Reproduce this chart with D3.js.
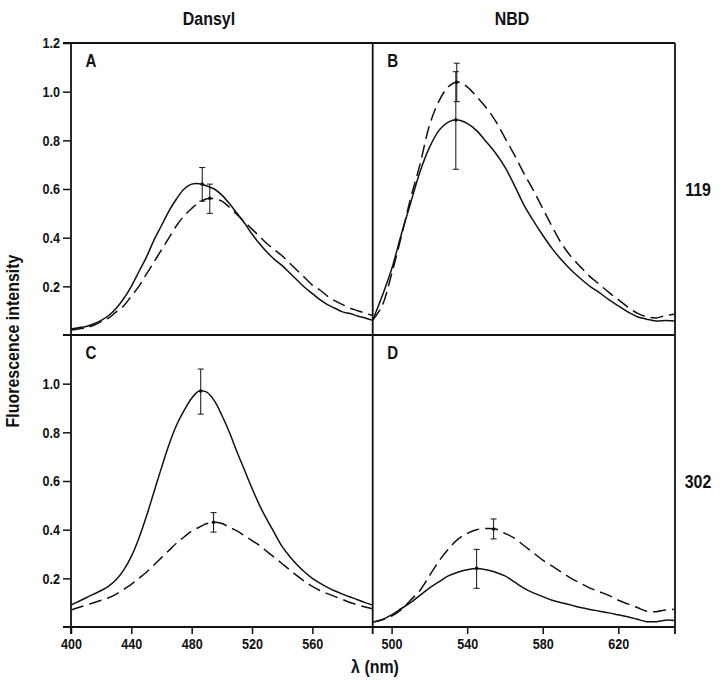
<!DOCTYPE html>
<html><head><meta charset="utf-8">
<script src="https://cdn.jsdelivr.net/npm/d3@7"></script>
<style>body{margin:0;background:#fff}svg{display:block}text{font-family:"Liberation Sans",Arial,sans-serif;fill:#111}</style>
</head><body><svg id="c" width="720" height="681"></svg>
<script>
// ---- data ----
const wlDansyl = d3.range(400, 601, 5);   // nm, panels A & C
const wlNBD = d3.range(490, 651, 5);      // nm, panels B & D
const columnTitles = ["Dansyl", "NBD"];
const rowTitles = ["119", "302"];
const panelLetters = ["A", "B", "C", "D"];
const yTicksTop = [0.2, 0.4, 0.6, 0.8, 1.0, 1.2];
const yTicksBottom = [0.2, 0.4, 0.6, 0.8, 1.0];
const xTicksDansyl = [400, 440, 480, 520, 560];
const xTicksNBD = [500, 540, 580, 620];

const A_solid = [0.025,0.03,0.035,0.045,0.06,0.08,0.11,0.15,0.2,0.26,0.32,0.39,0.45,0.51,0.56,0.6,0.62,0.622,0.612,0.6,0.575,0.54,0.5,0.46,0.415,0.375,0.34,0.31,0.285,0.255,0.225,0.195,0.17,0.145,0.125,0.11,0.095,0.088,0.078,0.07,0.06];
const A_dashed = [0.02,0.025,0.03,0.04,0.055,0.07,0.095,0.12,0.16,0.2,0.25,0.3,0.35,0.4,0.45,0.49,0.52,0.545,0.56,0.56,0.55,0.525,0.495,0.465,0.435,0.405,0.375,0.35,0.325,0.295,0.265,0.235,0.205,0.185,0.16,0.14,0.125,0.11,0.1,0.09,0.08];
const B_solid = [0.06,0.16,0.27,0.41,0.54,0.67,0.77,0.84,0.875,0.884,0.87,0.84,0.795,0.748,0.69,0.615,0.535,0.47,0.41,0.355,0.308,0.267,0.232,0.2,0.174,0.145,0.12,0.095,0.075,0.065,0.058,0.06,0.058];
const B_dashed = [0.06,0.12,0.25,0.4,0.56,0.7,0.86,0.96,1.02,1.04,1.02,0.98,0.935,0.88,0.81,0.74,0.665,0.595,0.52,0.445,0.375,0.322,0.28,0.24,0.208,0.175,0.145,0.115,0.09,0.075,0.07,0.08,0.085];
const C_solid = [0.09,0.105,0.12,0.135,0.15,0.168,0.195,0.235,0.29,0.365,0.455,0.555,0.655,0.75,0.83,0.89,0.94,0.97,0.965,0.93,0.87,0.8,0.72,0.645,0.57,0.5,0.44,0.385,0.33,0.29,0.255,0.225,0.2,0.18,0.163,0.148,0.135,0.123,0.112,0.1,0.09];
const C_dashed = [0.07,0.08,0.09,0.1,0.11,0.12,0.135,0.155,0.175,0.2,0.225,0.255,0.285,0.315,0.345,0.37,0.395,0.41,0.425,0.43,0.425,0.41,0.395,0.375,0.355,0.335,0.31,0.285,0.26,0.235,0.21,0.187,0.167,0.15,0.137,0.125,0.113,0.101,0.091,0.082,0.075];
const D_solid = [0.02,0.03,0.05,0.075,0.1,0.13,0.16,0.185,0.21,0.225,0.235,0.24,0.235,0.225,0.21,0.185,0.16,0.14,0.125,0.11,0.1,0.09,0.08,0.072,0.065,0.058,0.05,0.042,0.032,0.022,0.022,0.028,0.027];
const D_dashed = [0.02,0.03,0.045,0.07,0.11,0.15,0.21,0.27,0.32,0.36,0.385,0.4,0.405,0.403,0.385,0.365,0.335,0.305,0.275,0.25,0.225,0.2,0.18,0.16,0.145,0.13,0.11,0.095,0.08,0.065,0.063,0.07,0.073];

// error bars: [wavelength, mean, low, high]
const A_err = [[487,0.62,0.55,0.688],[492,0.562,0.50,0.62]];
const B_err = [[534,0.884,0.681,1.082],[534.5,1.039,0.959,1.117]];
const C_err = [[486,0.97,0.875,1.06],[494.5,0.43,0.39,0.47]];
const D_err = [[545,0.241,0.159,0.319],[554,0.403,0.362,0.444]];

// ---- layout ----
const svg = d3.select("#c");
const L = 71, M = 372.7, R = 675, T = 43, H = 335, B = 627;
const SX = 0.84; // horizontal condensing of text
const xD = d3.scaleLinear().domain([400, 600]).range([L, M]);
const xN = d3.scaleLinear().domain([490, 650]).range([M, R]);
const yTop = d3.scaleLinear().domain([0, 1.2]).range([H, T]);
const yBot = d3.scaleLinear().domain([0, 1.2]).range([B, H]);

function label(x, y, txt, size, weight, rot) {
  return svg.append("text")
    .attr("transform", `translate(${x},${y})` + (rot ? ` rotate(${rot})` : "") + ` scale(${SX},1)`)
    .attr("text-anchor", "middle").attr("font-size", size).attr("font-weight", weight).text(txt);
}

const panels = [
  {x: xD, y: yTop, wl: wlDansyl, s: A_solid, d: A_dashed, e: A_err, letter: panelLetters[0]},
  {x: xN, y: yTop, wl: wlNBD, s: B_solid, d: B_dashed, e: B_err, letter: panelLetters[1]},
  {x: xD, y: yBot, wl: wlDansyl, s: C_solid, d: C_dashed, e: C_err, letter: panelLetters[2]},
  {x: xN, y: yBot, wl: wlNBD, s: D_solid, d: D_dashed, e: D_err, letter: panelLetters[3]}
];

const defs = svg.append("defs");
panels.forEach((p, i) => {
  const [x0, x1] = p.x.range(), [y1, y0] = p.y.range();
  defs.append("clipPath").attr("id", "clip" + i).append("rect")
    .attr("x", x0).attr("y", y0).attr("width", x1 - x0).attr("height", y1 - y0);
  const g = svg.append("g").attr("clip-path", `url(#clip${i})`);
  const line = d3.line().x((v, k) => p.x(p.wl[k])).y(v => p.y(v)).curve(d3.curveCatmullRom);
  g.append("path").attr("d", line(p.s)).attr("fill", "none").attr("stroke", "#111").attr("stroke-width", 1.5);
  g.append("path").attr("d", line(p.d)).attr("fill", "none").attr("stroke", "#111").attr("stroke-width", 1.5)
    .attr("stroke-dasharray", "13,6");
  const eg = svg.append("g");
  p.e.forEach(([w, m, lo, hi]) => {
    const cx = p.x(w);
    eg.append("line").attr("x1", cx).attr("x2", cx).attr("y1", p.y(lo)).attr("y2", p.y(hi)).attr("stroke", "#111").attr("stroke-width", 1);
    [lo, hi].forEach(v => eg.append("line").attr("x1", cx - 3).attr("x2", cx + 3).attr("y1", p.y(v)).attr("y2", p.y(v)).attr("stroke", "#111").attr("stroke-width", 1));
    eg.append("circle").attr("cx", cx).attr("cy", p.y(m)).attr("r", 1.8).attr("fill", "#111");
  });
  label(x0 + 20, y0 + 24, p.letter, 18, "bold");
});

// axes
const axStyle = (g, vertical) => {
  g.select(".domain").remove();
  g.selectAll("line").attr("stroke", "#111").attr("stroke-width", 1.5);
  g.selectAll("text").attr("font-size", 15).attr("font-weight", "bold")
    .style("font-family", "'Liberation Sans',Arial,sans-serif")
    .each(function() {
      const t = d3.select(this);
      const x = +t.attr("x") || 0;
      t.attr("x", x / SX).attr("transform", `scale(${SX},1)`);
    });
};
svg.append("g").attr("transform", `translate(${L},0)`)
  .call(d3.axisLeft(yTop).tickValues(yTicksTop).tickSize(8).tickPadding(3).tickFormat(d3.format(".1f"))).call(axStyle);
svg.append("g").attr("transform", `translate(${L},0)`)
  .call(d3.axisLeft(yBot).tickValues(yTicksBottom).tickSize(8).tickPadding(3).tickFormat(d3.format(".1f"))).call(axStyle);
svg.append("g").attr("transform", `translate(0,${B})`)
  .call(d3.axisBottom(xD).tickValues(xTicksDansyl).tickSize(7).tickPadding(4).tickFormat(d3.format("d"))).call(axStyle);
svg.append("g").attr("transform", `translate(0,${B})`)
  .call(d3.axisBottom(xN).tickValues(xTicksNBD).tickSize(7).tickPadding(4).tickFormat(d3.format("d"))).call(axStyle);

// frame
const fr = svg.append("g").attr("stroke", "#111").attr("stroke-width", 1.8).attr("fill", "none");
fr.append("line").attr("x1", L - 8).attr("x2", R).attr("y1", T).attr("y2", T);
fr.append("line").attr("x1", L - 8).attr("x2", R).attr("y1", H).attr("y2", H);
fr.append("line").attr("x1", L - 8).attr("x2", R).attr("y1", B).attr("y2", B);
[L, M, R].forEach(x => fr.append("line").attr("x1", x).attr("x2", x).attr("y1", T).attr("y2", B + 7));

// titles
label(209, 25, columnTitles[0], 19, "bold");
label(512, 25, columnTitles[1], 19, "bold");
label(698, (T + H) / 2 + 7, rowTitles[0], 19, "bold");
label(698, (H + B) / 2 + 7, rowTitles[1], 19, "bold");
label(19, H + 6, "Fluorescence intensity", 19, "bold", -90);
label(375, 673, "λ (nm)", 19, "bold");
</script></body></html>
